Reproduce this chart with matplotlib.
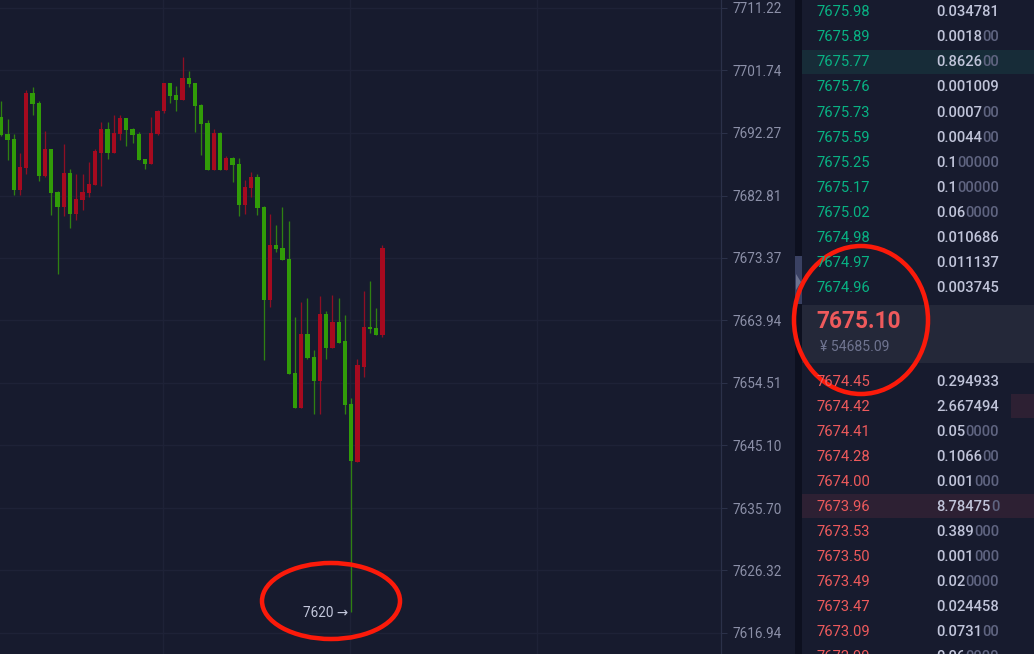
import matplotlib
matplotlib.use("Agg")
import matplotlib.pyplot as plt
from matplotlib.patches import Rectangle, Ellipse, Polygon

# ---- candle data ----
opens = [7694.70,7692.12,7691.37,7683.64,7686.97,7698.33,7696.82,7685.76,7689.85,7683.34,
         7681.07,7686.22,7680.02,7682.13,7683.19,7684.40,7689.25,7692.88,7689.25,7692.12,
         7694.55,7692.88,7692.12,7688.34,7687.58,7692.12,7695.61,7699.85,7698.03,7697.27,
         7700.61,7699.85,7696.51,7693.79,7686.67,7692.27,7686.67,7688.49,7687.58,7681.38,
         7683.95,7685.61,7681.07,7667.03,7675.34,7674.88,7673.22,7656.03,7650.76,7661.90,
         7658.44,7654.83,7664.92,7659.79,7663.71,7660.85,7651.36,7642.63,7656.93,7662.96,
         7662.81,7661.75]
highs = [7697.12,7694.40,7692.12,7689.25,7698.79,7699.25,7697.12,7692.58,7689.85,7683.49,
         7690.61,7686.82,7686.07,7686.07,7687.88,7689.85,7693.94,7693.94,7695.00,7695.00,
         7694.55,7693.03,7692.43,7688.34,7694.70,7695.76,7699.85,7699.85,7699.40,7703.79,
         7701.67,7699.85,7696.66,7694.24,7692.88,7692.43,7688.79,7688.64,7688.49,7685.16,
         7686.37,7686.07,7681.22,7680.02,7678.36,7681.07,7678.96,7664.47,7666.73,7667.33,
         7659.49,7667.63,7665.37,7667.78,7667.33,7664.77,7652.27,7658.13,7668.39,7669.90,
         7665.82,7675.34]
lows = [7691.82,7688.19,7682.89,7682.89,7686.07,7695.00,7685.01,7685.61,7679.87,7670.96,
        7679.72,7677.91,7679.11,7680.62,7682.58,7684.40,7684.25,7688.34,7689.25,7691.22,
        7690.31,7690.76,7688.19,7686.82,7687.58,7691.97,7695.30,7696.82,7695.61,7697.27,
        7699.25,7692.43,7688.94,7686.67,7686.67,7686.67,7686.67,7684.86,7679.72,7680.02,
        7682.58,7679.87,7657.98,7665.97,7674.28,7673.07,7655.88,7650.76,7650.76,7658.13,
        7649.85,7649.85,7658.13,7659.79,7660.55,7649.85,7620.10,7642.63,7655.43,7662.05,
        7661.75,7661.45]
closes = [7691.97,7691.22,7683.64,7687.13,7698.33,7696.66,7685.76,7689.85,7683.19,7681.07,
          7686.22,7680.02,7682.28,7683.34,7684.55,7689.55,7692.88,7689.25,7692.27,7694.55,
          7692.73,7691.97,7688.19,7687.58,7692.27,7695.61,7699.85,7697.88,7697.27,7700.61,
          7699.70,7696.36,7693.64,7686.67,7692.27,7686.67,7688.49,7687.43,7681.38,7684.10,
          7685.61,7680.92,7667.03,7675.34,7674.73,7673.07,7655.88,7650.76,7661.90,7658.29,
          7654.83,7664.92,7659.79,7663.71,7660.55,7651.21,7642.78,7657.23,7662.96,7662.66,
          7661.75,7674.88]
price_ticks = [7711.22,7701.74,7692.27,7682.81,7673.37,7663.94,7654.51,7645.10,7635.70,7626.32,7616.94]
low_label = "7620 \u2192"

# ---- order book ----
ask_prices = ["7675.98","7675.89","7675.77","7675.76","7675.73","7675.59",
              "7675.25","7675.17","7675.02","7674.98","7674.97","7674.96"]
ask_bright = ["0.034781","0.0018","0.8626","0.001009","0.0007","0.0044",
              "0.1","0.1","0.06","0.010686","0.011137","0.003745"]
ask_dim = ["","00","00","","00","00","00000","00000","0000","","",""]
bid_prices = ["7674.45","7674.42","7674.41","7674.28","7674.00","7673.96",
              "7673.53","7673.50","7673.49","7673.47","7673.09","7672.99"]
bid_bright = ["0.294933","2.667494","0.05","0.1066","0.001","8.78475",
              "0.389","0.001","0.02","0.024458","0.0731","0.06"]
bid_dim = ["","","0000","00","000","0","000","000","0000","","00","0000"]
mid_price = "7675.10"
mid_cny = "\u00a5 54685.09"

W, H = 1034, 654
BG = "#171b2e"
GRID = "#1e2237"
AXIS = "#2b3149"
LABEL = "#8c90a8"
UP = "#a60a1f"
DOWN = "#319c08"
UPW = "#8f0f24"
DOWNW = "#2f8012"
px = 72 / 100

plt.rcParams["font.family"] = ["Roboto", "DejaVu Sans"]
fig = plt.figure(figsize=(W / 100, H / 100), dpi=100, facecolor=BG)

# chart axes
AX_R = 720.5
ax = fig.add_axes([0, 0, AX_R / W, 1], facecolor=BG)
ax.set_yscale("log")
ax.set_ylim(7613.79, 7712.43)
ax.set_xlim(-0.21, 115.1)
ax.minorticks_off()
ax.set_yticks(price_ticks)
ax.set_yticklabels([f"{t:.2f}" for t in price_ticks])
ax.yaxis.tick_right()
ax.tick_params(axis="y", which="both", direction="out", length=6 * px, width=1 * px,
               color=AXIS, labelcolor=LABEL, labelsize=13.5 * px, pad=6 * px)
ax.set_xticks([25.8, 55.8, 85.8])
ax.tick_params(axis="x", length=0, labelbottom=False)
ax.grid(True, color=GRID, linewidth=1.4 * px, zorder=0)
for s in ["left", "top", "bottom"]:
    ax.spines[s].set_visible(False)
ax.spines["right"].set_color(AXIS)
ax.spines["right"].set_linewidth(1.2 * px)

for i, (o, h, l, c) in enumerate(zip(opens, highs, lows, closes)):
    up = c > o
    ax.vlines(i, l, h, colors=UPW if up else DOWNW, linewidth=1.3 * px, zorder=2)
    ax.bar(i, abs(c - o), bottom=min(o, c), width=0.66, color=UP if up else DOWN,
           linewidth=0, zorder=3)

ax.annotate(low_label, xy=(56, lows[56]), xytext=(-3, -1.5), textcoords="offset pixels",
            ha="right", va="center", color="#c4c8dc", fontsize=13.5 * px, zorder=5)

# overlay in pixel coordinates for the order book panel
ov = fig.add_axes([0, 0, 1, 1], facecolor="none", zorder=5)
ov.set_xlim(0, W)
ov.set_ylim(H, 0)
ov.axis("off")

ov.add_patch(Rectangle((795, 0), 7, H, color="#0d101f", lw=0))
ov.add_patch(Rectangle((802, 0), W - 802, H, color=BG, lw=0))
ov.add_patch(Rectangle((795, 256), 7, 48, color="#3a4163", lw=0))
ov.add_patch(Polygon([(796, 274), (796, 290), (801, 282)], color="#6d7390", lw=0))
ov.add_patch(Rectangle((802, 305), W - 802, 58, color="#242839", lw=0))
ov.add_patch(Rectangle((802, 50), W - 802, 24, color="#172c38", lw=0))
ov.add_patch(Rectangle((802, 494), W - 802, 24, color="#2d2033", lw=0))
ov.add_patch(Rectangle((1011, 394), W - 1011, 24, color="#2d2033", lw=0))

GREEN = "#08b384"
RED = "#ee5a5c"
BRIGHT = "#c0c4d9"
DIM = "#5f6480"
FS = 14.8 * px


def rows(prices, bright, dim, y0, step, color):
    for i, (p, b, d) in enumerate(zip(prices, bright, dim)):
        y = y0 + i * step
        ov.text(816.5, y, p, color=color, fontsize=FS, va="center", ha="left", clip_on=True)
        t = ov.text(936.5, y, b, color=BRIGHT, fontsize=FS, va="center", ha="left",
                    fontweight="medium", clip_on=True)
        if d:
            ov.annotate(d, xy=(1, 0), xycoords=t, va="bottom", ha="left", color=DIM,
                        fontsize=FS, fontweight="medium", annotation_clip=False)


rows(ask_prices, ask_bright, ask_dim, 12.2, 25.09, GREEN)
rows(bid_prices, bid_bright, bid_dim, 382, 25.0, RED)

ov.text(816.5, 321, mid_price, color=RED, fontsize=22.6 * px, fontweight="bold", va="center", ha="left")
ov.text(820, 347, mid_cny, color="#6f7490", fontsize=14 * px, va="center", ha="left")

RING = "#fb1a0a"
ov.add_patch(Ellipse((861, 320), 134, 148, fill=False, edgecolor=RING, linewidth=4.5 * px))
ov.add_patch(Ellipse((331, 601), 138, 76, fill=False, edgecolor=RING, linewidth=4.5 * px))

fig.savefig("out.png", dpi=100, facecolor=BG)
